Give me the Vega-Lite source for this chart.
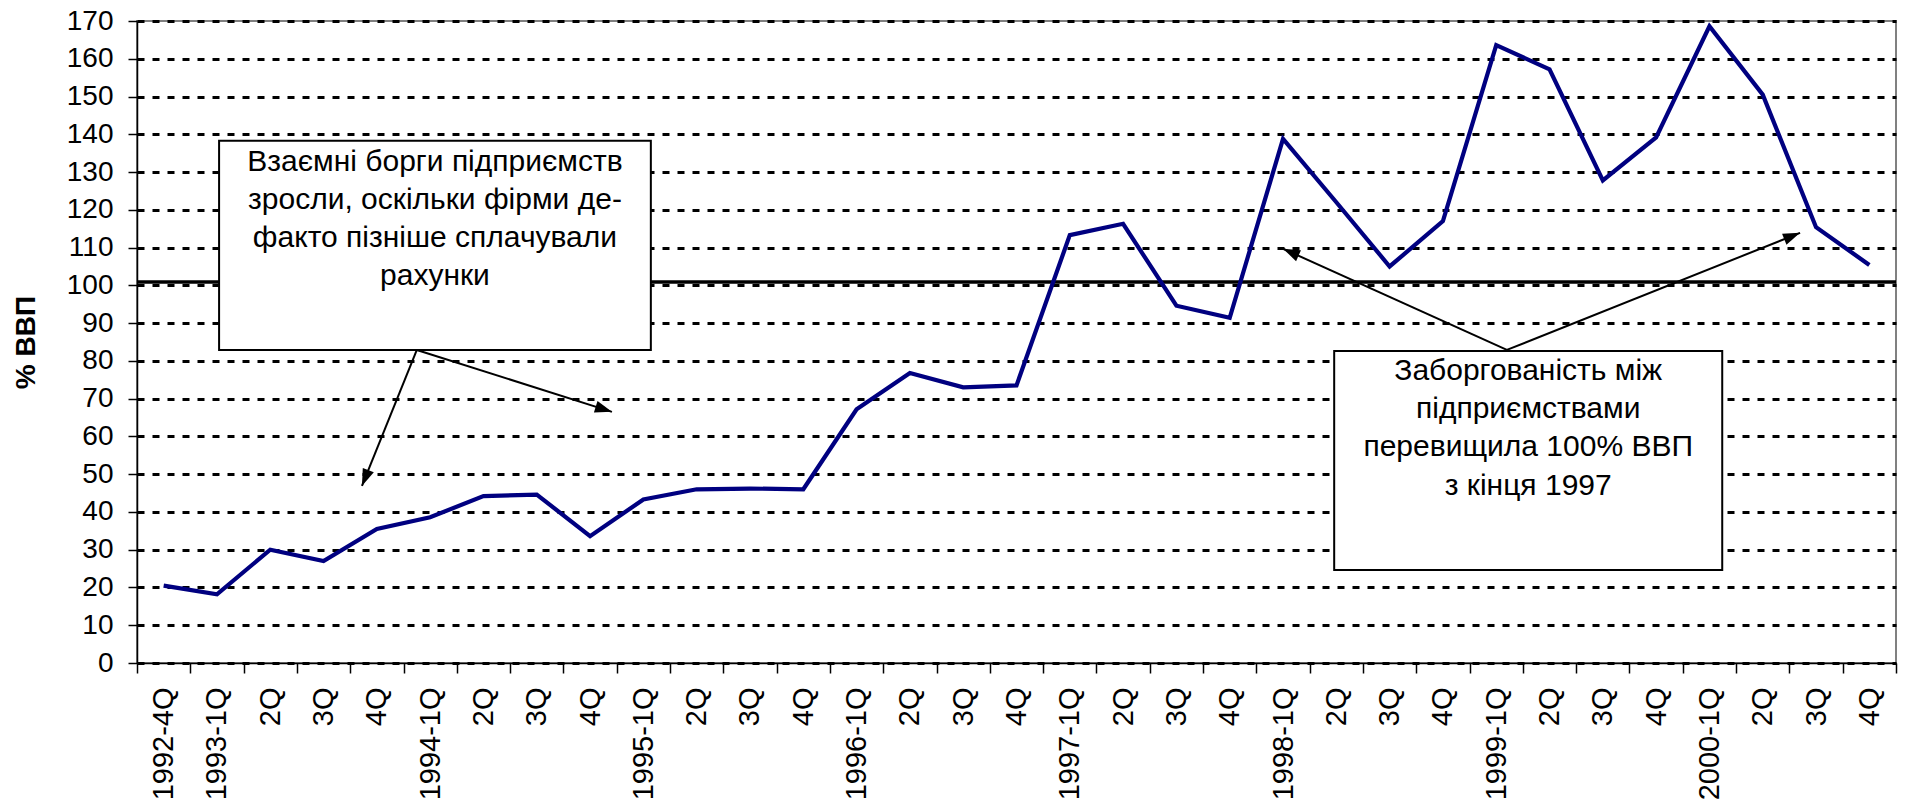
{
  "$schema": "https://vega.github.io/schema/vega-lite/v6.json",
  "autosize": "none",
  "width": 1759,
  "height": 642,
  "padding": {"left": 137, "top": 21, "right": 9, "bottom": 145},
  "background": "white",
  "config": {
    "view": {"stroke": "#808080", "strokeWidth": 2},
    "font": "Liberation Sans",
    "text": {"font": "Liberation Sans"}
  },
  "datasets": {
    "debt": [
      {"period": "1992-4Q", "t": 1992.875, "value": 20.5},
      {"period": "1993-1Q", "t": 1993.125, "value": 18.2},
      {"period": "1993-2Q", "t": 1993.375, "value": 30.0},
      {"period": "1993-3Q", "t": 1993.625, "value": 27.0},
      {"period": "1993-4Q", "t": 1993.875, "value": 35.5},
      {"period": "1994-1Q", "t": 1994.125, "value": 38.6},
      {"period": "1994-2Q", "t": 1994.375, "value": 44.2},
      {"period": "1994-3Q", "t": 1994.625, "value": 44.6},
      {"period": "1994-4Q", "t": 1994.875, "value": 33.6},
      {"period": "1995-1Q", "t": 1995.125, "value": 43.3},
      {"period": "1995-2Q", "t": 1995.375, "value": 46.0},
      {"period": "1995-3Q", "t": 1995.625, "value": 46.2},
      {"period": "1995-4Q", "t": 1995.875, "value": 46.0},
      {"period": "1996-1Q", "t": 1996.125, "value": 67.2},
      {"period": "1996-2Q", "t": 1996.375, "value": 76.8},
      {"period": "1996-3Q", "t": 1996.625, "value": 73.0},
      {"period": "1996-4Q", "t": 1996.875, "value": 73.5},
      {"period": "1997-1Q", "t": 1997.125, "value": 113.3},
      {"period": "1997-2Q", "t": 1997.375, "value": 116.3},
      {"period": "1997-3Q", "t": 1997.625, "value": 94.6},
      {"period": "1997-4Q", "t": 1997.875, "value": 91.4},
      {"period": "1998-1Q", "t": 1998.125, "value": 138.8},
      {"period": "1998-2Q", "t": 1998.375, "value": 122.0},
      {"period": "1998-3Q", "t": 1998.625, "value": 105.0},
      {"period": "1998-4Q", "t": 1998.875, "value": 117.0},
      {"period": "1999-1Q", "t": 1999.125, "value": 163.6},
      {"period": "1999-2Q", "t": 1999.375, "value": 157.2},
      {"period": "1999-3Q", "t": 1999.625, "value": 127.8},
      {"period": "1999-4Q", "t": 1999.875, "value": 139.2},
      {"period": "2000-1Q", "t": 2000.125, "value": 168.6},
      {"period": "2000-2Q", "t": 2000.375, "value": 150.5},
      {"period": "2000-3Q", "t": 2000.625, "value": 115.4},
      {"period": "2000-4Q", "t": 2000.875, "value": 105.4}
    ],
    "boxes": [
      {"id": "b1", "x": 1993.135, "x2": 1995.16, "y": 138.3, "y2": 82.9},
      {"id": "b2", "x": 1998.365, "x2": 2000.185, "y": 82.6, "y2": 24.6}
    ],
    "notes": [
      {"id": "b1", "x": 1994.1475, "y": 130.4, "text": "Взаємні борги підприємств\nзросли, оскільки фірми де-\nфакто пізніше сплачували\nрахунки"},
      {"id": "b2", "x": 1999.275, "y": 75.0, "text": "Заборгованість між\nпідприємствами\nперевищила 100% ВВП\nз кінця 1997"}
    ],
    "arrows": [
      {"id": "1a", "x": 1994.0625, "y": 82.9, "x2": 1994.9775, "y2": 66.5},
      {"id": "1b", "x": 1994.0625, "y": 82.9, "x2": 1993.805, "y2": 46.9},
      {"id": "2a", "x": 1999.175, "y": 82.9, "x2": 1998.125, "y2": 109.7},
      {"id": "2b", "x": 1999.175, "y": 82.9, "x2": 2000.55, "y2": 113.9}
    ],
    "level": [{"y": 100.9}]
  },
  "layer": [
    {
      "data": {"name": "level"},
      "mark": {"type": "rule", "color": "black", "strokeWidth": 3.5},
      "encoding": {
        "y": {"field": "y", "type": "quantitative"}
      }
    },
    {
      "data": {"name": "debt"},
      "mark": {"type": "line", "color": "#000080", "strokeWidth": 4.2},
      "encoding": {
        "x": {
          "field": "t",
          "type": "quantitative",
          "scale": {"domain": [1992.75, 2001.0], "nice": false, "zero": false},
          "axis": {
            "orient": "bottom",
            "title": null,
            "tickCount": 200,
            "values": [1992.75, 1992.875, 1993.0, 1993.125, 1993.25, 1993.375, 1993.5, 1993.625, 1993.75, 1993.875, 1994.0, 1994.125, 1994.25, 1994.375, 1994.5, 1994.625, 1994.75, 1994.875, 1995.0, 1995.125, 1995.25, 1995.375, 1995.5, 1995.625, 1995.75, 1995.875, 1996.0, 1996.125, 1996.25, 1996.375, 1996.5, 1996.625, 1996.75, 1996.875, 1997.0, 1997.125, 1997.25, 1997.375, 1997.5, 1997.625, 1997.75, 1997.875, 1998.0, 1998.125, 1998.25, 1998.375, 1998.5, 1998.625, 1998.75, 1998.875, 1999.0, 1999.125, 1999.25, 1999.375, 1999.5, 1999.625, 1999.75, 1999.875, 2000.0, 2000.125, 2000.25, 2000.375, 2000.5, 2000.625, 2000.75, 2000.875, 2001.0],
            "labelExpr": "(datum.value * 4) % 1 == 0 ? '' : ((floor((datum.value - floor(datum.value)) * 4) == 0 || datum.value < 1993) ? floor(datum.value) + '-' + (floor((datum.value - floor(datum.value)) * 4) + 1) + 'Q' : (floor((datum.value - floor(datum.value)) * 4) + 1) + 'Q')",
            "labelAngle": 270,
            "labelFontSize": 29,
            "labelFont": "Liberation Sans",
            "labelColor": "black",
            "labelPadding": 14,
            "labelOverlap": false,
            "labelFlush": false,
            "labelBound": false,
            "tickSize": 10,
            "tickColor": "black",
            "tickWidth": 1.5,
            "tickOpacity": {"condition": {"test": "(datum.value * 4) % 1 == 0", "value": 1}, "value": 0},
            "domainColor": "black",
            "domainWidth": 1.5,
            "grid": false
          }
        },
        "y": {
          "field": "value",
          "type": "quantitative",
          "scale": {"domain": [0, 170], "nice": false, "zero": true},
          "axis": {
            "orient": "left",
            "title": "% ВВП",
            "titleFontSize": 28,
            "titleFont": "Liberation Sans",
            "titleFontWeight": "bold",
            "titleColor": "black",
            "titlePadding": 26,
            "tickCount": 100,
            "values": [0, 10, 20, 30, 40, 50, 60, 70, 80, 90, 100, 110, 120, 130, 140, 150, 160, 170],
            "labelOverlap": false,
            "labelFlush": false,
            "labelFontSize": 28,
            "labelFont": "Liberation Sans",
            "labelColor": "black",
            "labelPadding": 15,
            "tickSize": 9,
            "tickColor": "black",
            "tickWidth": 1.5,
            "domainColor": "black",
            "domainWidth": 1.5,
            "grid": true,
            "gridColor": "black",
            "gridWidth": 2.8,
            "gridDash": [7, 8]
          }
        }
      }
    },
    {
      "data": {"name": "boxes"},
      "mark": {"type": "rect", "fill": "white", "stroke": "black", "strokeWidth": 2},
      "encoding": {
        "x": {"field": "x", "type": "quantitative"},
        "x2": {"field": "x2"},
        "y": {"field": "y", "type": "quantitative"},
        "y2": {"field": "y2"}
      }
    },
    {
      "data": {"name": "arrows"},
      "mark": {"type": "rule", "color": "black", "strokeWidth": 2},
      "encoding": {
        "x": {"field": "x", "type": "quantitative"},
        "x2": {"field": "x2"},
        "y": {"field": "y", "type": "quantitative"},
        "y2": {"field": "y2"}
      }
    },
    {
      "data": {"name": "arrows"},
      "transform": [{"filter": "datum.id == '1a'"}],
      "mark": {"type": "point", "shape": "M0,0L-2,-0.7L-2,0.7Z", "filled": true, "color": "black", "opacity": 1, "size": 289, "angle": 17.6},
      "encoding": {
        "x": {"field": "x2", "type": "quantitative"},
        "y": {"field": "y2", "type": "quantitative"}
      }
    },
    {
      "data": {"name": "arrows"},
      "transform": [{"filter": "datum.id == '1b'"}],
      "mark": {"type": "point", "shape": "M0,0L-2,-0.7L-2,0.7Z", "filled": true, "color": "black", "opacity": 1, "size": 289, "angle": 112},
      "encoding": {
        "x": {"field": "x2", "type": "quantitative"},
        "y": {"field": "y2", "type": "quantitative"}
      }
    },
    {
      "data": {"name": "arrows"},
      "transform": [{"filter": "datum.id == '2a'"}],
      "mark": {"type": "point", "shape": "M0,0L-2,-0.7L-2,0.7Z", "filled": true, "color": "black", "opacity": 1, "size": 289, "angle": 204.3},
      "encoding": {
        "x": {"field": "x2", "type": "quantitative"},
        "y": {"field": "y2", "type": "quantitative"}
      }
    },
    {
      "data": {"name": "arrows"},
      "transform": [{"filter": "datum.id == '2b'"}],
      "mark": {"type": "point", "shape": "M0,0L-2,-0.7L-2,0.7Z", "filled": true, "color": "black", "opacity": 1, "size": 289, "angle": 338.2},
      "encoding": {
        "x": {"field": "x2", "type": "quantitative"},
        "y": {"field": "y2", "type": "quantitative"}
      }
    },
    {
      "data": {"name": "notes"},
      "mark": {"type": "text", "font": "Liberation Sans", "fontSize": 30, "lineHeight": 38.3, "align": "center", "baseline": "alphabetic", "lineBreak": "\n", "color": "black"},
      "encoding": {
        "x": {"field": "x", "type": "quantitative"},
        "y": {"field": "y", "type": "quantitative"},
        "text": {"field": "text"}
      }
    }
  ]
}
